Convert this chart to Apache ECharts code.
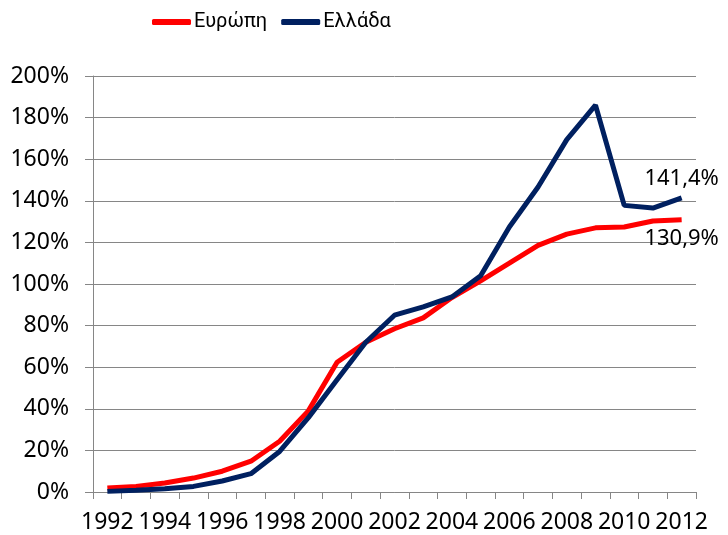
<!DOCTYPE html>
<html>
<head>
<meta charset="utf-8">
<script src="https://cdn.jsdelivr.net/npm/echarts@6/dist/echarts.min.js"></script>
<style>
  html, body { margin: 0; padding: 0; background: #fff; }
  #chart { width: 728px; height: 535px; }
</style>
</head>
<body>
<div id="chart"></div>
<script>
var years = ['1992','1993','1994','1995','1996','1997','1998','1999','2000','2001','2002',
             '2003','2004','2005','2006','2007','2008','2009','2010','2011','2012'];
// Ευρώπη
var europe = [1.9, 2.7, 4.3, 6.7, 10, 14.8, 24.4, 39, 62.4, 72, 78.5,
              83.7, 93.5, 101.5, 110, 118.6, 124, 127, 127.4, 130.3, 130.9];
// Ελλάδα
var greece = [0.3, 0.8, 1.6, 2.7, 5.3, 8.8, 19.5, 35.7, 54, 72, 85,
              89, 93.8, 104, 127.4, 146.6, 169.4, 186, 137.8, 136.5, 141.4];
var yTicks = { min: 0, max: 200, step: 20 };

var font = 'Noto Sans';
var myChart = echarts.init(document.getElementById('chart'));

function endLabel(pos) {
  return {
    show: true,
    position: pos,
    distance: 8,
    fontFamily: font,
    fontSize: 22,
    color: '#000',
    formatter: function (p) {
      // μόνο η τελευταία τιμή
      if (p.dataIndex !== years.length - 1) return '';
      return p.value.toFixed(1).replace('.', ',') + '%';
    }
  };
}

var option = {
  animation: false,
  legend: {
    left: 152,
    top: 12,
    padding: 0,
    icon: 'roundRect',
    itemWidth: 39,
    itemHeight: 6,
    itemGap: 14,
    textStyle: { fontFamily: 'Roboto', fontSize: 20, color: '#000', padding: [0, 0, 0, -2] },
    data: ['Ευρώπη', 'Ελλάδα']
  },
  grid: { left: 93, right: 32, top: 76, bottom: 43 },
  xAxis: {
    type: 'category',
    data: years,
    boundaryGap: true,
    axisLine: { lineStyle: { color: '#868686', width: 1 } },
    axisTick: { show: true, interval: 0, length: 7, lineStyle: { color: '#868686' } },
    axisLabel: { interval: 1, margin: 19, fontFamily: font, fontSize: 23, color: '#000' },
    splitLine: { show: false }
  },
  yAxis: {
    type: 'value',
    min: yTicks.min,
    max: yTicks.max,
    interval: yTicks.step,
    axisLine: { show: true, lineStyle: { color: '#868686', width: 1 } },
    axisTick: { show: true, length: 8, lineStyle: { color: '#868686' } },
    axisLabel: { formatter: '{value}%', margin: 24, fontFamily: font, fontSize: 23, color: '#000' },
    splitLine: { lineStyle: { color: '#868686', width: 1 } }
  },
  series: [
    {
      name: 'Ευρώπη',
      type: 'line',
      data: europe,
      showSymbol: true,
      showAllSymbol: true,
      symbolSize: 0,
      color: '#ff0000',
      lineStyle: { width: 5, color: '#ff0000' },
      label: endLabel('bottom'),
      z: 2
    },
    {
      name: 'Ελλάδα',
      type: 'line',
      data: greece,
      showSymbol: true,
      showAllSymbol: true,
      symbolSize: 0,
      color: '#002060',
      lineStyle: { width: 5, color: '#002060' },
      label: endLabel('top'),
      z: 3
    }
  ]
};
myChart.setOption(option);
</script>
</body>
</html>
